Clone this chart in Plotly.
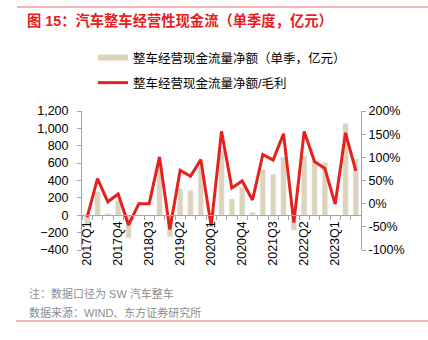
import plotly.graph_objects as go

quarters = ["2017Q1","2017Q2","2017Q3","2017Q4","2018Q1","2018Q2","2018Q3","2018Q4",
            "2019Q1","2019Q2","2019Q3","2019Q4","2020Q1","2020Q2","2020Q3","2020Q4",
            "2021Q1","2021Q2","2021Q3","2021Q4","2022Q1","2022Q2","2022Q3","2022Q4",
            "2023Q1","2023Q2","2023Q3"]
cash_flow = [-126, 274, 19, 171, -259, 0, 0, 568, -248, 305, 286, 560, -15, 739, 187, 320,
             34, 526, 472, 670, -171, 682, 625, 606, 5, 1055, 648]
ratio_pct = [-29, 54, 4, 21, -46, 0, 0, 101, -56, 72, 59, 95, -49, 156, 34, 49,
             8, 106, 94, 151, -41, 156, 91, 76, -1, 153, 71]
left_ticks = [-400, -200, 0, 200, 400, 600, 800, 1000, 1200]
right_ticks = [-100, -50, 0, 50, 100, 150, 200]
right_labels = ["-100%", "-50%", "0%", "50%", "100%", "150%", "200%"]

name_bar = "整车经营现金流量净额（单季，亿元）"
name_line = "整车经营现金流量净额/毛利"

BEIGE = "#ddd3bb"
RED = "#e5201d"
GRAY = "#a6a6a6"
FONT = "Liberation Sans, Arial, Noto Sans CJK SC"

xs = list(range(len(quarters)))

fig = go.Figure()
fig.add_trace(go.Bar(x=xs, y=cash_flow, marker_color=BEIGE, width=0.52,
                     showlegend=False, yaxis="y", name=name_bar))
fig.add_trace(go.Scatter(x=xs, y=ratio_pct, mode="lines", line=dict(color=RED, width=3),
                         yaxis="y2", name=name_line, legend="legend2"))
# legend proxy for bars (wide rectangle swatch)
fig.add_trace(go.Scatter(x=[None], y=[None], mode="lines", line=dict(color=BEIGE, width=6),
                         name=name_bar, legend="legend"))

W, H = 428, 340
L, R, T, B = 82, 67, 111, 90
pw = W - L - R
ph = H - T - B

def px_x(p):
    return (p - L) / pw

def px_y(p):
    return (H - B - p) / ph

fig.update_layout(
    width=W, height=H,
    margin=dict(l=L, r=R, t=T, b=B, pad=0),
    paper_bgcolor="white", plot_bgcolor="white",
    font=dict(family=FONT, size=12.5, color="#000"),
    bargap=0.45,
    xaxis=dict(range=[-0.5, len(quarters) - 0.5], anchor="free", position=0.25,
               showline=True, linecolor=GRAY, linewidth=1, showgrid=False, zeroline=False,
               tickmode="array", tickvals=xs[::3], ticktext=quarters[::3], tickangle=-90,
               ticks="", tickfont=dict(size=12.5, color="#000"),
               minor=dict(ticks="outside", ticklen=4, tickcolor=GRAY, tickmode="linear",
                          tick0=0.5, dtick=1)),
    yaxis=dict(range=[-400, 1200], tickvals=left_ticks, tickformat=",", showgrid=False,
               zeroline=False, showline=True, linecolor=GRAY, ticks="outside", ticklen=4,
               tickcolor=GRAY, ticklabelstandoff=6),
    yaxis2=dict(range=[-100, 200], tickmode="array", tickvals=right_ticks,
                ticktext=right_labels, overlaying="y",
                side="right", showgrid=False, zeroline=False, showline=True, linecolor=GRAY,
                ticks="outside", ticklen=4, tickcolor=GRAY),
    legend=dict(x=px_x(93), y=px_y(58), xanchor="left", yanchor="middle",
                bgcolor="rgba(0,0,0,0)", itemwidth=30, font=dict(size=12.5)),
    legend2=dict(x=px_x(93), y=px_y(83), xanchor="left", yanchor="middle",
                 bgcolor="rgba(0,0,0,0)", itemwidth=30, font=dict(size=12.5)),
    title=dict(text="<b>图 15：汽车整车经营性现金流（单季度，亿元）</b>", xref="container",
               yref="container", x=27 / W, xanchor="left", y=1 - 21 / H, yanchor="middle",
               font=dict(size=14.3, color=RED, family=FONT)),
    shapes=[
        dict(type="line", xref="paper", yref="paper", x0=px_x(17), x1=px_x(428),
             y0=px_y(7), y1=px_y(7), line=dict(color="#e86a68", width=1)),
        dict(type="line", xref="paper", yref="paper", x0=px_x(16), x1=px_x(428),
             y0=px_y(321), y1=px_y(321), line=dict(color="#e86a68", width=1)),
    ],
    annotations=[
        dict(text="注：数据口径为 SW 汽车整车", xref="paper", yref="paper", x=px_x(27),
             y=px_y(293), xanchor="left", yanchor="middle", showarrow=False,
             font=dict(size=11, color="#8c8c8c")),
        dict(text="数据来源：WIND、东方证券研究所", xref="paper", yref="paper", x=px_x(27),
             y=px_y(312), xanchor="left", yanchor="middle", showarrow=False,
             font=dict(size=11, color="#8c8c8c")),
    ],
)

fig.write_html("out.html")
